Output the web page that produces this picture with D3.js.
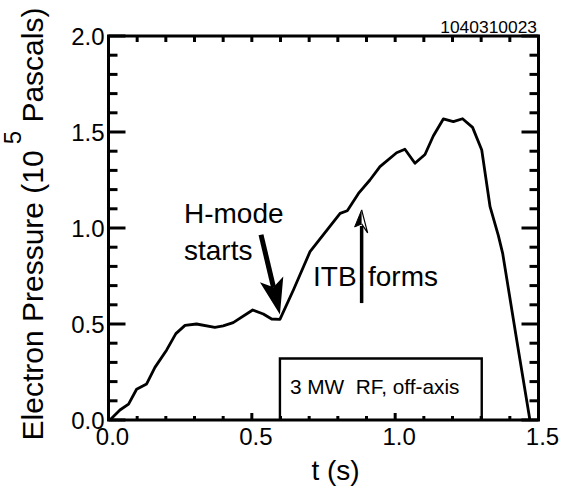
<!DOCTYPE html>
<html lang="en">
<head>
<meta charset="utf-8">
<title>Electron pressure vs time</title>
<script src="https://cdn.jsdelivr.net/npm/d3@7"></script>
<style>
  body { margin: 0; background: #fff; }
  svg text { font-family: "Liberation Sans", Arial, Helvetica, sans-serif; fill: #000; }
</style>
</head>
<body>
<script>
// time (s) and electron pressure (1e5 Pa)
const tSeconds = [0.005, 0.04, 0.07, 0.098, 0.133, 0.162, 0.203, 0.235, 0.267, 0.307,
  0.371, 0.40, 0.435, 0.503, 0.54, 0.569, 0.598, 0.645, 0.703, 0.808,
  0.833, 0.872, 0.912, 0.947, 1.005, 1.034, 1.069, 1.104, 1.133, 1.168,
  1.203, 1.235, 1.27, 1.302, 1.331, 1.36, 1.375, 1.424, 1.47];
const pressure = [0, 0.052, 0.083, 0.16, 0.188, 0.274, 0.365, 0.45, 0.493, 0.5,
  0.483, 0.49, 0.507, 0.573, 0.552, 0.526, 0.524, 0.677, 0.877, 1.076,
  1.09, 1.18, 1.25, 1.32, 1.392, 1.41, 1.337, 1.383, 1.479, 1.568,
  1.554, 1.569, 1.524, 1.406, 1.111, 0.96, 0.868, 0.417, 0];

const xMajor = [0, 0.5, 1.0, 1.5];
const xTickLabels = ["0.0", "0.5", "1.0", "1.5"];
const yMajor = [0, 0.5, 1.0, 1.5, 2.0];
const yTickLabels = ["0.0", "0.5", "1.0", "1.5", "2.0"];
const xMinor = [0.1, 0.2, 0.3, 0.4, 0.6, 0.7, 0.8, 0.9, 1.1, 1.2, 1.3, 1.4];
const yMinor = [0.1, 0.2, 0.3, 0.4, 0.6, 0.7, 0.8, 0.9, 1.1, 1.2, 1.3, 1.4, 1.6, 1.7, 1.8, 1.9];

// RF heating window (s) and its box height
const rfWindow = [0.598, 1.302];
const rfTop = 0.32;
const rfLabel = "3 MW  RF, off-axis";
const shotNumber = "1040310023";

// annotation arrows in data units: [t, p] from tail to tip
const hmodeArrow = [[0.532, 0.965], [0.598, 0.55]];
const itbArrow = [[0.883, 0.609], [0.883, 1.094]];

const W = 570, H = 493;
const margin = { left: 108.5, right: 31.5, top: 36, bottom: 73 };

const svg = d3.select("body").append("svg")
  .attr("width", W).attr("height", H)
  .style("display", "block");

const x = d3.scaleLinear().domain([0, 1.5]).range([margin.left, W - margin.right]);
const y = d3.scaleLinear().domain([0, 2.0]).range([H - margin.bottom, margin.top]);

// pressure trace
const pts = tSeconds.map((t, i) => [t, pressure[i]]);
svg.append("path")
  .datum(pts)
  .style("fill", "none").attr("stroke", "#000").attr("stroke-width", 2.8)
  .attr("stroke-linejoin", "round")
  .attr("d", d3.line().x(d => x(d[0])).y(d => y(d[1])));

// frame
svg.append("path")
  .attr("d", `M${x(0)},${y(0)}H${x(1.5)}V${y(2)}H${x(0)}Z`)
  .style("fill", "none").attr("stroke", "#000").attr("stroke-width", 3);

// inward ticks on all four sides
const ax = svg.append("g").attr("stroke", "#000").attr("stroke-width", 3);
ax.selectAll(".yl").data(yMajor.concat(yMinor)).join("line").attr("class", "yl")
  .attr("x1", x(0)).attr("x2", d => x(0) + (yMajor.includes(d) ? 17 : 9))
  .attr("y1", d => y(d)).attr("y2", d => y(d));
ax.selectAll(".yr").data(yMajor.concat(yMinor)).join("line").attr("class", "yr")
  .attr("x1", x(1.5)).attr("x2", d => x(1.5) - (yMajor.includes(d) ? 17 : 9))
  .attr("y1", d => y(d)).attr("y2", d => y(d));
ax.selectAll(".xb").data(xMajor.concat(xMinor)).join("line").attr("class", "xb")
  .attr("x1", d => x(d)).attr("x2", d => x(d))
  .attr("y1", y(0)).attr("y2", d => y(0) - (xMajor.includes(d) ? 7 : 4));
ax.selectAll(".xt").data(xMajor.concat(xMinor)).join("line").attr("class", "xt")
  .attr("x1", d => x(d)).attr("x2", d => x(d))
  .attr("y1", y(2)).attr("y2", y(2) + 6);

// tick labels
svg.append("g").selectAll("text").data(yMajor).join("text")
  .attr("x", margin.left - 4).attr("y", d => y(d) + 8.5)
  .attr("text-anchor", "end").attr("font-size", 24)
  .text((d, i) => yTickLabels[i]);
svg.append("g").selectAll("text").data(xMajor).join("text")
  .attr("x", d => x(d) + 4).attr("y", H - margin.bottom + 25)
  .attr("text-anchor", "middle").attr("font-size", 24)
  .text((d, i) => xTickLabels[i]);

// axis titles
svg.append("text")
  .attr("x", (x(0) + x(1.5)) / 2 + 12).attr("y", 480)
  .attr("text-anchor", "middle").attr("font-size", 28)
  .text("t (s)");

const yl = svg.append("text")
  .attr("transform", "translate(43,224) rotate(-90)")
  .attr("text-anchor", "middle").attr("font-size", 30);
yl.append("tspan").text("Electron Pressure (10");
yl.append("tspan").attr("dy", -22).attr("dx", 6).attr("font-size", 24).text("5");
yl.append("tspan").attr("dy", 22).text(" Pascals)");

svg.append("text")
  .attr("x", 537).attr("y", 33)
  .attr("text-anchor", "end").attr("font-size", 17.4)
  .text(shotNumber);

// RF box
svg.append("path")
  .attr("d", `M${x(rfWindow[0])},${y(0)}V${y(rfTop)}H${x(rfWindow[1])}V${y(0)}`)
  .style("fill", "none").attr("stroke", "#000").attr("stroke-width", 2.4);
svg.append("text")
  .attr("x", x(rfWindow[0]) + 10).attr("y", 394)
  .attr("font-size", 20.8).style("white-space", "pre")
  .text(rfLabel);

// H-mode arrow (solid head)
{
  const [a, b] = hmodeArrow.map(p => [x(p[0]), y(p[1])]);
  const ang = Math.atan2(b[1] - a[1], b[0] - a[0]);
  const len = 36, hw = 12;
  const bx = b[0] - len * Math.cos(ang), by = b[1] - len * Math.sin(ang);
  const nx = -Math.sin(ang), ny = Math.cos(ang);
  svg.append("line")
    .attr("x1", a[0]).attr("y1", a[1]).attr("x2", bx + 8 * Math.cos(ang)).attr("y2", by + 8 * Math.sin(ang))
    .attr("stroke", "#000").attr("stroke-width", 5);
  svg.append("path")
    .attr("d", `M${b[0]},${b[1]}L${bx + nx * hw},${by + ny * hw}L${bx + 8 * Math.cos(ang)},${by + 8 * Math.sin(ang)}L${bx - nx * hw},${by - ny * hw}Z`)
    .attr("fill", "#000");
}

// ITB arrow (thin open head)
{
  const [a, b] = itbArrow.map(p => [x(p[0]), y(p[1])]);
  svg.append("line")
    .attr("x1", a[0]).attr("y1", a[1]).attr("x2", b[0]).attr("y2", b[1] + 16)
    .attr("stroke", "#000").attr("stroke-width", 3.5);
  svg.append("path")
    .attr("d", `M${b[0]},${b[1]}L${b[0] - 7},${b[1] + 17}L${b[0]},${b[1] + 14}Z`)
    .attr("fill", "#000").attr("stroke", "#000").attr("stroke-width", 1);
  svg.append("path")
    .attr("d", `M${b[0]},${b[1]}L${b[0] + 6},${b[1] + 23}L${b[0]},${b[1] + 14}`)
    .attr("fill", "#fff").attr("stroke", "#000").attr("stroke-width", 1.2);
}

// annotation text
svg.append("text").attr("x", 184).attr("y", 223).attr("font-size", 28).text("H-mode");
svg.append("text").attr("x", 184).attr("y", 260).attr("font-size", 28).text("starts");
svg.append("text").attr("x", 313).attr("y", 286).attr("font-size", 28).text("ITB");
svg.append("text").attr("x", 368).attr("y", 286).attr("font-size", 28).text("forms");
</script>
</body>
</html>
